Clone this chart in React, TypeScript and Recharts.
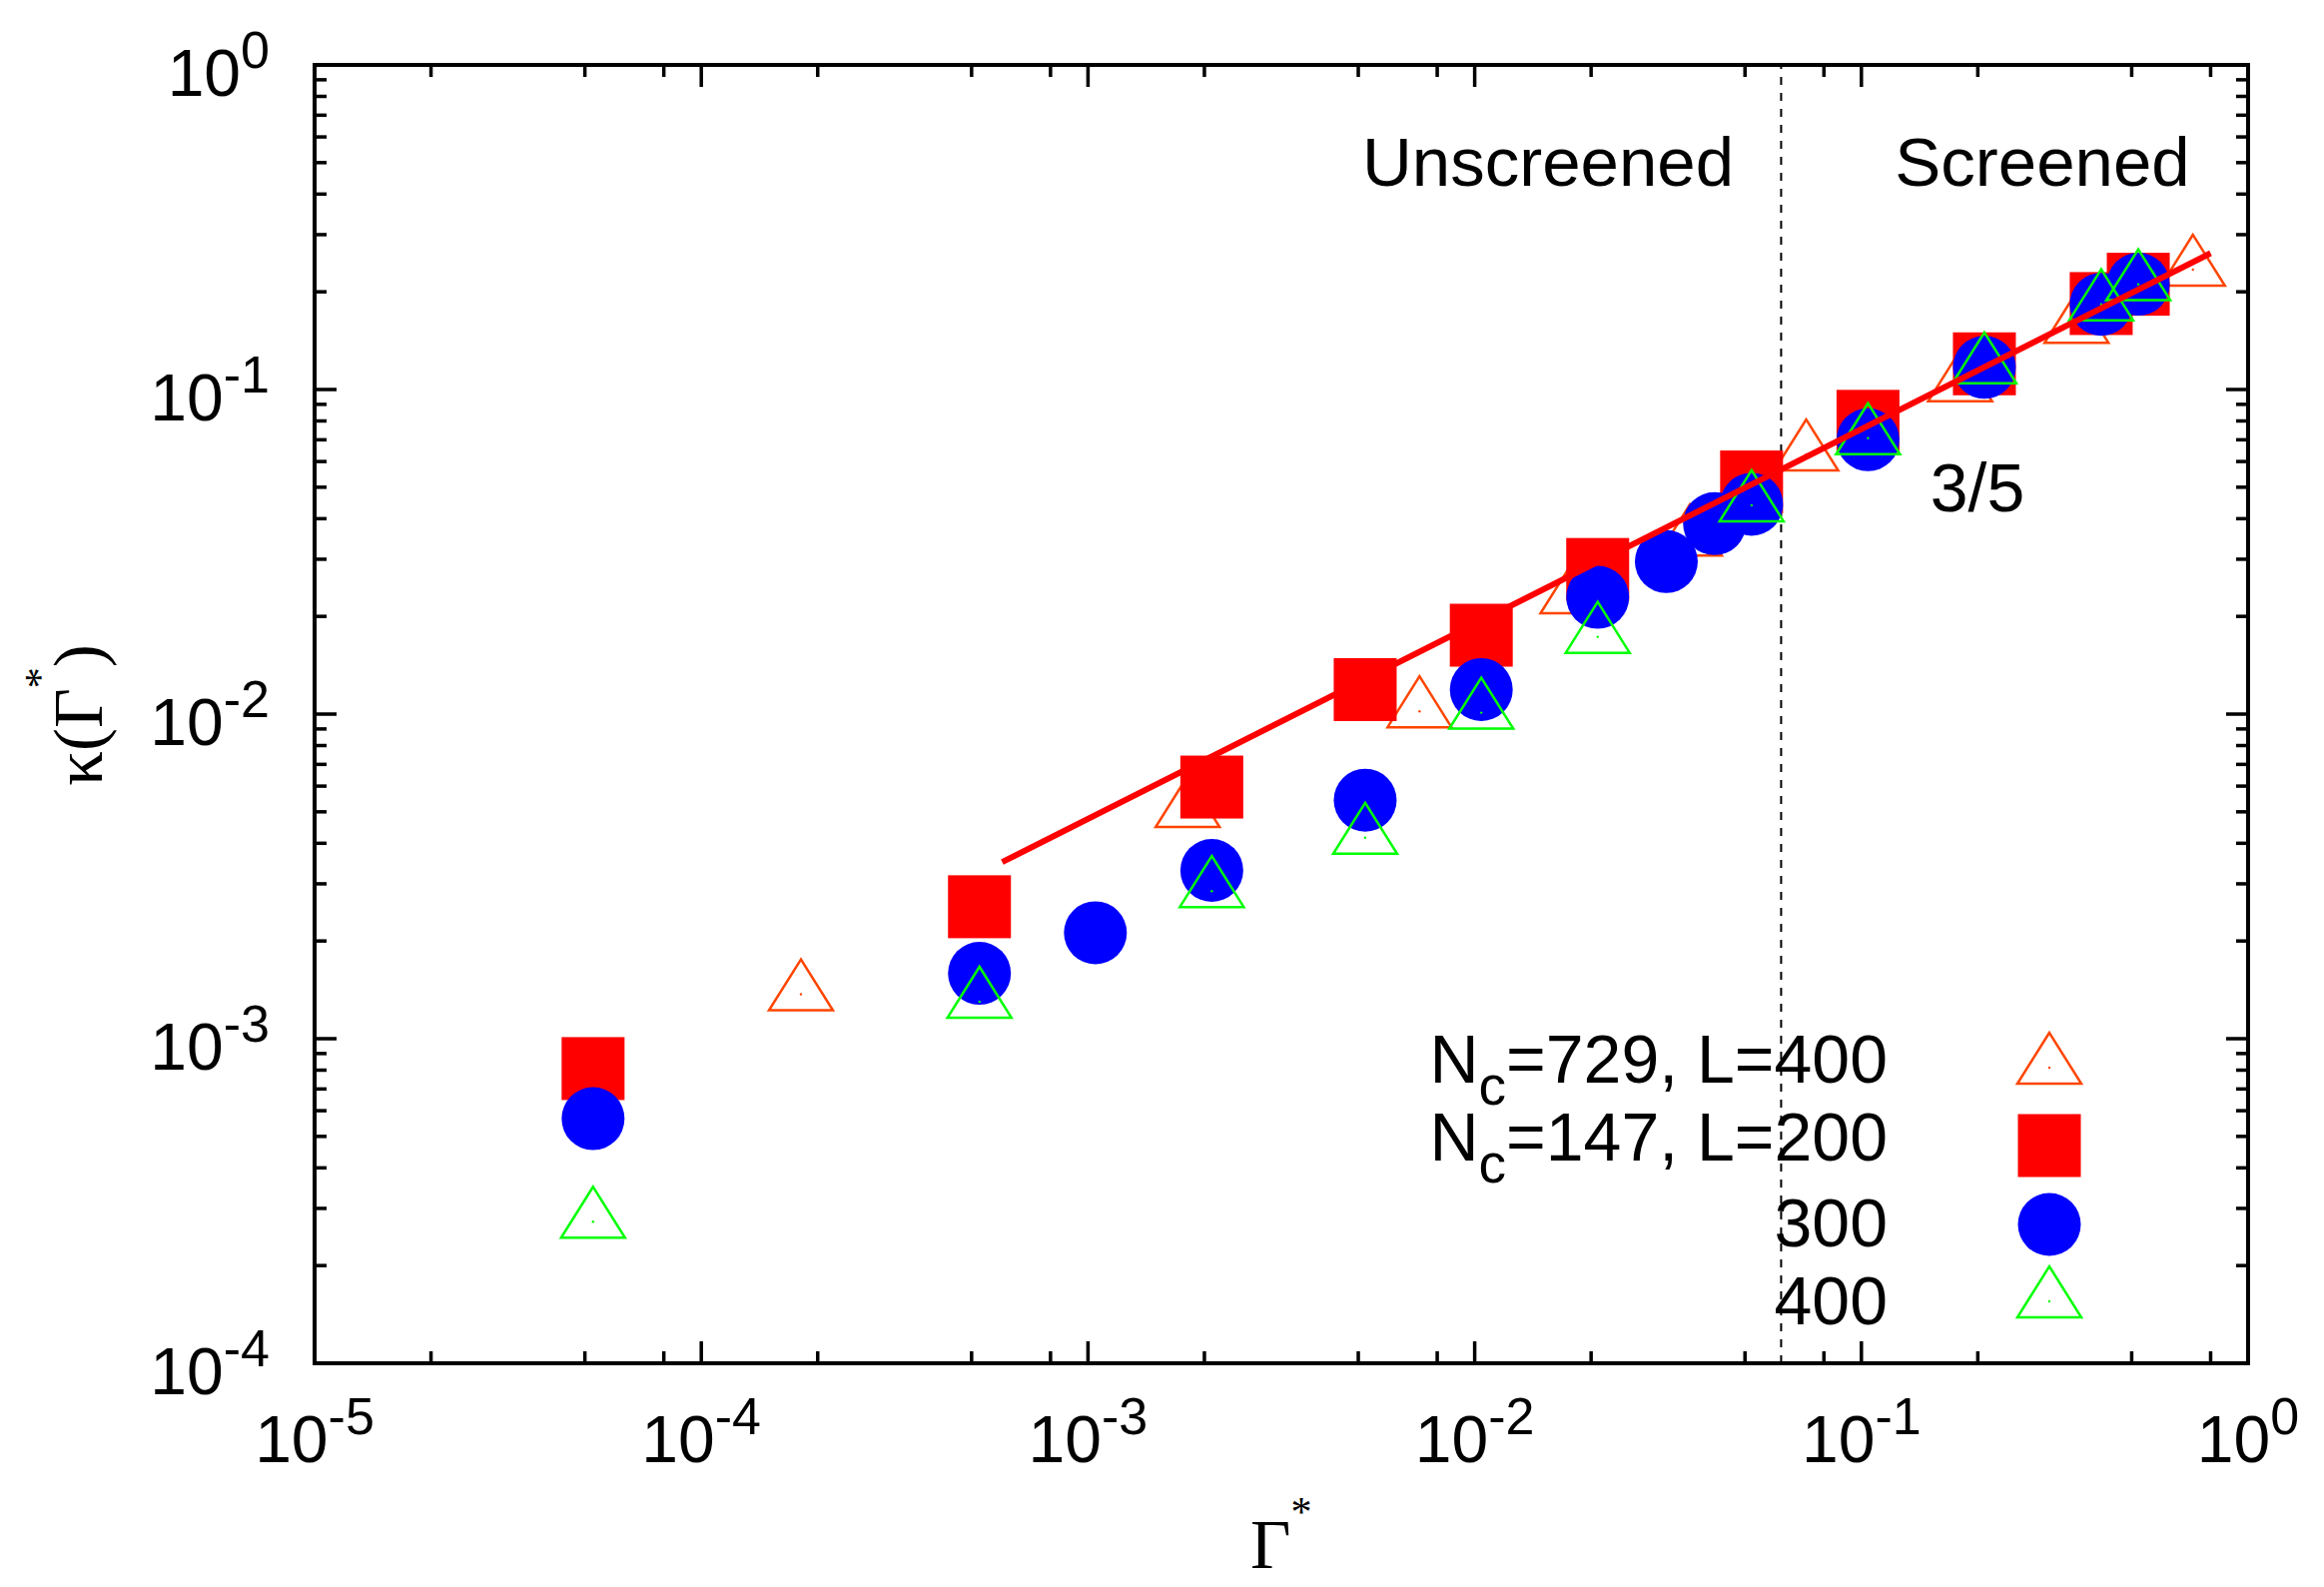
import React from 'react';
import { ScatterChart, Scatter, XAxis, YAxis, ReferenceLine, ReferenceArea } from 'recharts';

// N_c=729, L=400 (open orange triangles)
const gamma729 = [1.81e-4, 1.81e-3, 7.2e-3, 1.79e-2, 3.6e-2, 7.2e-2, 0.18, 0.36, 0.72];
const kappa729 = [1.37e-3, 5.03e-3, 1.02e-2, 2.29e-2, 3.45e-2, 6.31e-2, 0.103, 0.156, 0.234];

// N_c=147, L=200 (red squares)
const gamma200 = [5.25e-5, 5.24e-4, 2.09e-3, 5.21e-3, 1.04e-2, 2.08e-2, 5.2e-2, 0.104, 0.208, 0.417, 0.52];
const kappa200 = [8.09e-4, 2.55e-3, 5.96e-3, 1.19e-2, 1.75e-2, 2.79e-2, 5.19e-2, 7.98e-2, 0.12, 0.184, 0.211];

// L=300 (blue circles)
const gamma300 = [5.25e-5, 5.24e-4, 1.045e-3, 2.09e-3, 5.21e-3, 1.04e-2, 2.08e-2, 3.13e-2, 4.17e-2, 5.2e-2, 0.104, 0.208, 0.417, 0.52];
const kappa300 = [5.67e-4, 1.59e-3, 2.12e-3, 3.3e-3, 5.43e-3, 1.19e-2, 2.29e-2, 2.95e-2, 3.86e-2, 4.43e-2, 7.0e-2, 0.117, 0.183, 0.211];

// L=400 (open green triangles)
const gamma400 = [5.25e-5, 5.24e-4, 2.09e-3, 5.21e-3, 1.04e-2, 2.08e-2, 5.2e-2, 0.104, 0.208, 0.417, 0.52];
const kappa400 = [2.73e-4, 1.3e-3, 2.85e-3, 4.16e-3, 1.01e-2, 1.73e-2, 4.4e-2, 7.08e-2, 0.117, 0.183, 0.211];

// 3/5 guide line, end points
const fitGamma = [6.0e-4, 0.8];
const fitKappa = [3.5e-3, 0.263];

// unscreened / screened boundary
const crossover = 0.062;

const xMajor = [1e-5, 1e-4, 1e-3, 1e-2, 1e-1, 1];
const xMajorExp = ['-5', '-4', '-3', '-2', '-1', '0'];
const xMinorMult = [2, 5, 8];
const yMajor = [1e-4, 1e-3, 1e-2, 1e-1, 1];
const yMajorExp = ['-4', '-3', '-2', '-1', '0'];
const yMinorMult = [2, 3, 4, 5, 6, 7, 8, 9];

const xTicks = [...xMajor, ...xMajor.slice(0, -1).flatMap((d) => xMinorMult.map((m) => m * d))];
const yTicks = [...yMajor, ...yMajor.slice(0, -1).flatMap((d) => yMinorMult.map((m) => m * d))];

const zip = (xs: number[], ys: number[]) => xs.map((x, i) => ({ x, y: ys[i] }));

const W = 2327;
const H = 1589;
const PL = 315;
const PR = 2251;
const PT = 65;
const PB = 1365;

const SANS = '"Liberation Sans", Arial, sans-serif';
const SERIF = '"Liberation Serif", "Times New Roman", serif';

const ORANGE = '#ff4500';
const RED = '#ff0000';
const BLUE = '#0000ff';
const GREEN = '#00ff00';

const Triangle = ({ cx, cy, color }: { cx: number; cy: number; color: string }) => (
  <g>
    <polygon
      points={`${cx},${cy - 35} ${cx - 32},${cy + 16} ${cx + 32},${cy + 16}`}
      fill="none"
      stroke={color}
      strokeWidth={2.5}
    />
    <circle cx={cx} cy={cy} r={1.2} fill={color} />
  </g>
);

const Square = ({ cx, cy }: { cx: number; cy: number }) => (
  <rect x={cx - 31.5} y={cy - 31.5} width={63} height={63} fill={RED} />
);

const Dot = ({ cx, cy }: { cx: number; cy: number }) => <circle cx={cx} cy={cy} r={31.5} fill={BLUE} />;

const XTick = (props: any) => {
  const { x, y, payload } = props;
  const idx = xMajor.indexOf(payload.value);
  const len = idx >= 0 ? 22 : 12;
  return (
    <g>
      <line x1={x} x2={x} y1={y} y2={y - len} stroke="#000" strokeWidth={3.5} />
      <line x1={x} x2={x} y1={PT} y2={PT + len} stroke="#000" strokeWidth={3.5} />
      {idx >= 0 && (
        <text x={x} y={y + 99} textAnchor="middle" fontFamily={SANS} fontSize={66} fill="#000">
          10
          <tspan dy={-28} fontSize={52}>
            {xMajorExp[idx]}
          </tspan>
        </text>
      )}
    </g>
  );
};

const YTick = (props: any) => {
  const { x, y, payload } = props;
  const idx = yMajor.indexOf(payload.value);
  const len = idx >= 0 ? 22 : 12;
  return (
    <g>
      <line x1={x} x2={x + len} y1={y} y2={y} stroke="#000" strokeWidth={3.5} />
      <line x1={PR} x2={PR - len} y1={y} y2={y} stroke="#000" strokeWidth={3.5} />
      {idx >= 0 && (
        <text x={x - 45} y={y + 31} textAnchor="end" fontFamily={SANS} fontSize={66} fill="#000">
          10
          <tspan dy={-28} fontSize={52}>
            {yMajorExp[idx]}
          </tspan>
        </text>
      )}
    </g>
  );
};

const legendRows = [
  { label: 'N', sub: 'c', rest: '=729, L=400', base: 1084, mark: 'tri-orange', my: 1069 },
  { label: 'N', sub: 'c', rest: '=147, L=200', base: 1162, mark: 'square', my: 1147 },
  { label: '', sub: '', rest: '300', base: 1248, mark: 'circle', my: 1226 },
  { label: '', sub: '', rest: '400', base: 1326, mark: 'tri-green', my: 1303 },
];

export default function App() {
  return (
    <div style={{ position: 'absolute', left: 0, top: 0, width: W, height: H, background: '#fff' }}>
      <ScatterChart width={W} height={H} margin={{ top: PT, right: W - PR, bottom: H - PB - 30, left: PL - 60 }}>
        <XAxis
          dataKey="x"
          type="number"
          scale="log"
          domain={[1e-5, 1]}
          allowDataOverflow
          ticks={xTicks}
          interval={0}
          tickSize={0}
          tickMargin={0}
          height={30}
          axisLine={false}
          tick={<XTick />}
        />
        <YAxis
          dataKey="y"
          type="number"
          scale="log"
          domain={[1e-4, 1]}
          allowDataOverflow
          ticks={yTicks}
          interval={0}
          tickSize={0}
          tickMargin={0}
          width={60}
          axisLine={false}
          tick={<YTick />}
        />
        <ReferenceArea x1={1e-5} x2={1} y1={1e-4} y2={1} fill="none" stroke="#000" strokeWidth={4} />
        <ReferenceLine x={crossover} stroke="#000" strokeWidth={2} strokeDasharray="8 8" />
        <Scatter
          data={zip(gamma729, kappa729)}
          isAnimationActive={false}
          shape={(p: any) => <Triangle cx={p.cx} cy={p.cy} color={ORANGE} />}
        />
        <Scatter data={zip(gamma200, kappa200)} isAnimationActive={false} shape={(p: any) => <Square cx={p.cx} cy={p.cy} />} />
        <Scatter data={zip(gamma300, kappa300)} isAnimationActive={false} shape={(p: any) => <Dot cx={p.cx} cy={p.cy} />} />
        <Scatter
          data={zip(gamma400, kappa400)}
          isAnimationActive={false}
          shape={(p: any) => <Triangle cx={p.cx} cy={p.cy} color={GREEN} />}
        />
        <Scatter
          data={zip(fitGamma, fitKappa)}
          isAnimationActive={false}
          line={{ stroke: RED, strokeWidth: 6 }}
          shape={() => <g />}
        />
      </ScatterChart>

      <svg
        width={W}
        height={H}
        style={{ position: 'absolute', left: 0, top: 0, pointerEvents: 'none' }}
      >
        <text x={1550} y={186} textAnchor="middle" fontFamily={SANS} fontSize={69} fill="#000">
          Unscreened
        </text>
        <text x={2045} y={186} textAnchor="middle" fontFamily={SANS} fontSize={69} fill="#000">
          Screened
        </text>
        <text x={1980} y={512} textAnchor="middle" fontFamily={SANS} fontSize={68} fill="#000">
          3/5
        </text>

        {legendRows.map((r) => (
          <g key={r.base}>
            <text x={1890} y={r.base} textAnchor="end" fontFamily={SANS} fontSize={68} fill="#000">
              {r.label}
              {r.sub && (
                <tspan dy={22} fontSize={55}>
                  {r.sub}
                </tspan>
              )}
              <tspan dy={r.sub ? -22 : 0}>{r.rest}</tspan>
            </text>
            {r.mark === 'tri-orange' && <Triangle cx={2052} cy={r.my} color={ORANGE} />}
            {r.mark === 'square' && <Square cx={2052} cy={r.my} />}
            {r.mark === 'circle' && <Dot cx={2052} cy={r.my} />}
            {r.mark === 'tri-green' && <Triangle cx={2052} cy={r.my} color={GREEN} />}
          </g>
        ))}

        <text x={1252} y={1570} fontFamily={SERIF} fontSize={70} fill="#000">
          Γ
          <tspan dy={-42} fontSize={42}>
            *
          </tspan>
        </text>

        <text
          x={102}
          y={716}
          transform="rotate(-90 102 716)"
          textAnchor="middle"
          fontFamily={SERIF}
          fontSize={69}
          fill="#000"
        >
          κ(Γ
          <tspan dy={-48} fontSize={42}>
            *
          </tspan>
          <tspan dy={48}>)</tspan>
        </text>
      </svg>
    </div>
  );
}
